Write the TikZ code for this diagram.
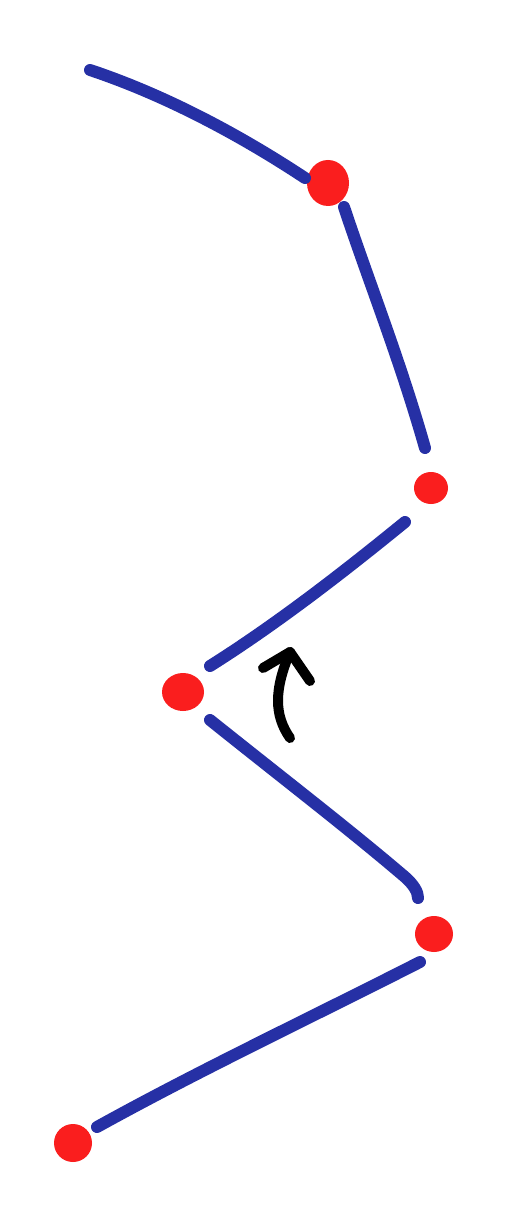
\documentclass[tikz,border=0pt]{standalone}
\begin{document}
\begin{tikzpicture}[x=1pt,y=-1pt,
  stroke/.style={draw=penblue,line width=12pt,line cap=round},
  arrowpen/.style={draw=black,line width=10pt,line cap=round,line join=round},
]
\definecolor{penblue}{RGB}{38,48,165}
\definecolor{dotred}{RGB}{250,30,30}
\useasboundingbox[fill=white] (0,0) rectangle (508,1222);
% dots
\fill[dotred] (328,183) ellipse [x radius=21, y radius=23];
\fill[dotred] (431,488) ellipse [x radius=17, y radius=16];
\fill[dotred] (183,692) ellipse [x radius=21, y radius=19];
\fill[dotred] (434,934) ellipse [x radius=19, y radius=18];
\fill[dotred] (73,1143) ellipse [x radius=19, y radius=19];
% blue strokes
\coordinate (a1) at (90,70);   \coordinate (a2) at (305,178);
\coordinate (b1) at (344,207); \coordinate (b2) at (425,448);
\coordinate (c1) at (405,522); \coordinate (c2) at (210,666);
\coordinate (d1) at (210,720); \coordinate (d2) at (418,898);
\coordinate (e1) at (420,962); \coordinate (e2) at (97,1127);
\path[stroke] (a1) .. controls (165,95) and (240,135) .. (a2);
\path[stroke] (b1) .. controls (370,285) and (400,360) .. (b2);
\path[stroke] (c1) .. controls (340,575) and (275,625) .. (c2);
\path[stroke] (d1) .. controls (285,780) and (350,830) .. (405,877) .. controls (414,885) and (418,892) .. (d2);
\path[stroke] (e1) .. controls (310,1018) and (200,1070) .. (e2);
% black arrow
\coordinate (t) at (290,652);
\coordinate (s) at (290,738);
\path[arrowpen] (s) .. controls (274,715) and (274,690) .. (t);
\path[arrowpen] (263,668) -- (t) -- (310,681);
\end{tikzpicture}
\end{document}
